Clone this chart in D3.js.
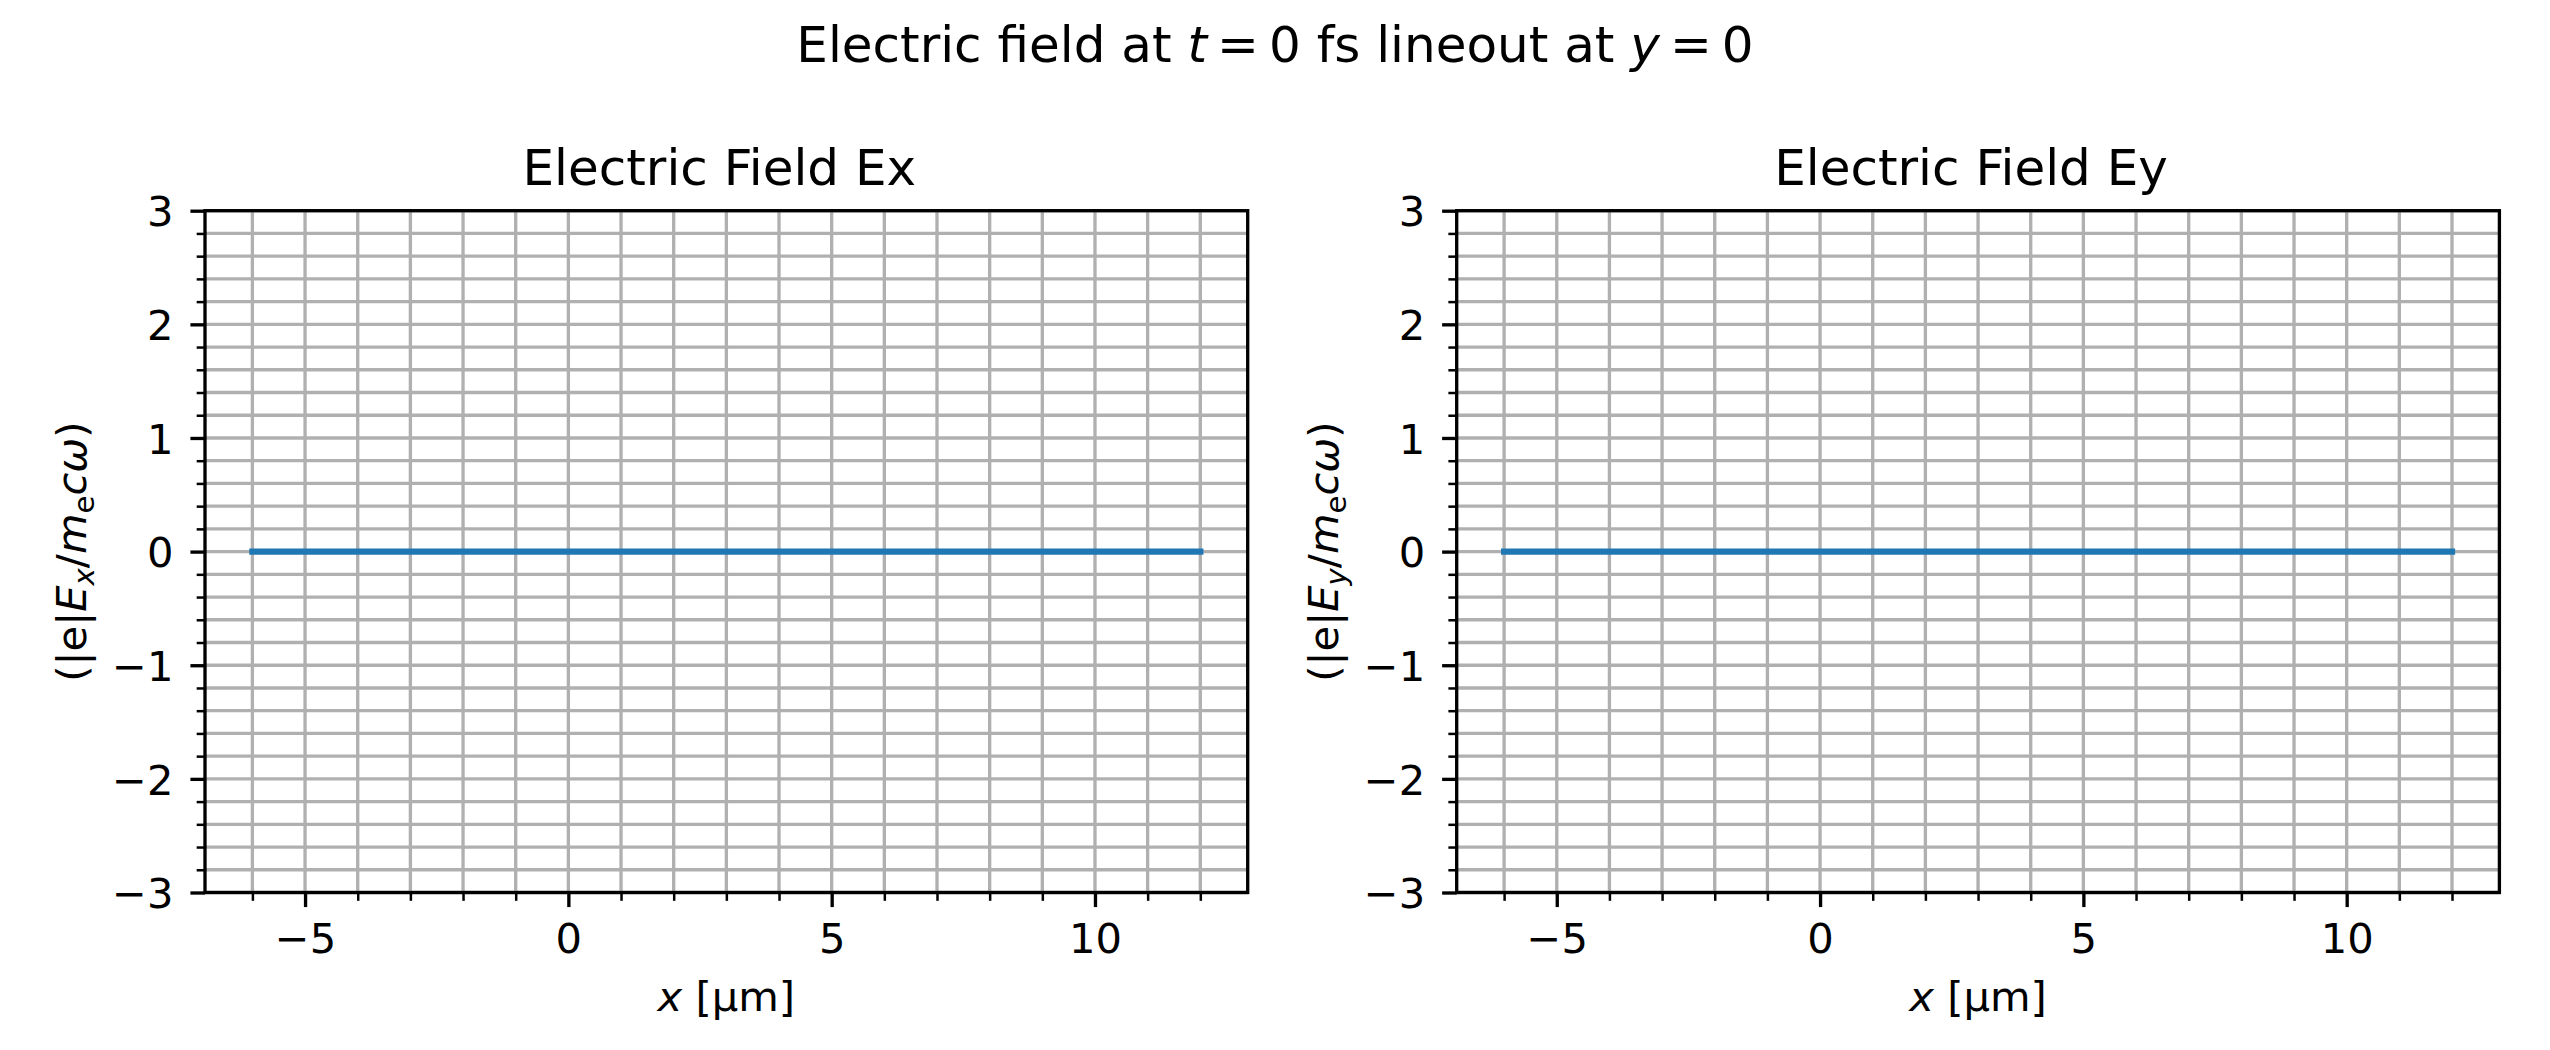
<!DOCTYPE html>
<html>
<head>
<meta charset="utf-8">
<script src="https://cdn.jsdelivr.net/npm/d3@7"></script>
<style>
  html, body { margin: 0; padding: 0; background: #fff; }
  svg { display: block; font-family: "DejaVu Sans", sans-serif; }
</style>
</head>
<body>
<svg id="chart" width="2550" height="1050"></svg>
<script>
// ---- data ----
const xPositions = [-6, 12];          // x [µm] lineout extent
const exValues = [0, 0];              // Ex at t = 0
const eyValues = [0, 0];              // Ey at t = 0
const xDomain = [-6.9, 12.9];
const yDomain = [-3, 3];
const xMajorTicks = [-5, 0, 5, 10];
const xMinorTicks = [-6, -4, -3, -2, -1, 1, 2, 3, 4, 6, 7, 8, 9, 11, 12];
const yMajorTicks = [-3, -2, -1, 0, 1, 2, 3];
const yMinorTicks = [-2.8, -2.6, -2.4, -2.2, -1.8, -1.6, -1.4, -1.2, -0.8, -0.6, -0.4, -0.2,
                     0.2, 0.4, 0.6, 0.8, 1.2, 1.4, 1.6, 1.8, 2.2, 2.4, 2.6, 2.8];
const panelTitles = ["Electric Field Ex", "Electric Field Ey"];
const subscripts = ["x", "y"];

// ---- layout ----
const svg = d3.select("#chart");
const fs10 = 41.667, fs12 = 50;
const pt = 300 / 72;
const axW = 1042.7, axTop = 210.7, axBottom = 892.5;
const lefts = [205, 1456.7];

// suptitle
const sup = svg.append("text").attr("x", 1275).attr("y", 62)
  .attr("text-anchor", "middle").attr("font-size", fs12).attr("fill", "#000");
sup.append("tspan").text("Electric field at ");
sup.append("tspan").attr("font-style", "italic").text("t");
sup.append("tspan").attr("dx", 10).text("=");
sup.append("tspan").attr("dx", 10).text("0");
sup.append("tspan").text(" fs lineout at ");
sup.append("tspan").attr("font-style", "italic").text("y");
sup.append("tspan").attr("dx", 10).text("=");
sup.append("tspan").attr("dx", 10).text("0");

const fmt = d => (d < 0 ? "\u2212" : "") + Math.abs(d);

[exValues, eyValues].forEach((vals, p) => {
  const L = lefts[p];
  const x = d3.scaleLinear().domain(xDomain).range([L, L + axW]);
  const y = d3.scaleLinear().domain(yDomain).range([axBottom, axTop]);
  const g = svg.append("g");

  // grid (major + minor)
  const gx = xMajorTicks.concat(xMinorTicks);
  const gy = yMajorTicks.concat(yMinorTicks);
  g.append("g").selectAll("line").data(gx).join("line")
    .attr("x1", d => x(d)).attr("x2", d => x(d))
    .attr("y1", axTop).attr("y2", axBottom)
    .attr("stroke", "#b0b0b0").attr("stroke-width", 0.8 * pt);
  g.append("g").selectAll("line").data(gy).join("line")
    .attr("x1", L).attr("x2", L + axW)
    .attr("y1", d => y(d)).attr("y2", d => y(d))
    .attr("stroke", "#b0b0b0").attr("stroke-width", 0.8 * pt);

  // data line
  const line = d3.line().x(d => x(d[0])).y(d => y(d[1]));
  g.append("path").datum(xPositions.map((xv, i) => [xv, vals[i]]))
    .attr("d", line).attr("fill", "none")
    .attr("stroke", "#1f77b4").attr("stroke-width", 1.5 * pt)
    .attr("stroke-linecap", "square");

  // x axis ticks
  const xa = g.append("g").attr("transform", `translate(0,${axBottom})`)
    .call(d3.axisBottom(x).tickValues(xMajorTicks).tickSize(3.5 * pt).tickFormat(fmt));
  xa.select(".domain").remove();
  xa.selectAll(".tick line").attr("stroke", "#000").attr("stroke-width", 0.8 * pt);
  xa.selectAll(".tick text").attr("y", 60.5).attr("dy", null)
    .attr("font-size", fs10).attr("font-family", "DejaVu Sans").attr("fill", "#000");
  const xm = g.append("g").attr("transform", `translate(0,${axBottom})`)
    .call(d3.axisBottom(x).tickValues(xMinorTicks).tickSize(2 * pt).tickFormat(""));
  xm.select(".domain").remove();
  xm.selectAll(".tick line").attr("stroke", "#000").attr("stroke-width", 0.6 * pt);

  // y axis ticks
  const ya = g.append("g").attr("transform", `translate(${L},0)`)
    .call(d3.axisLeft(y).tickValues(yMajorTicks).tickSize(3.5 * pt).tickFormat(fmt));
  ya.select(".domain").remove();
  ya.selectAll(".tick line").attr("stroke", "#000").attr("stroke-width", 0.8 * pt);
  ya.selectAll(".tick text").attr("x", -31.5).attr("dy", "0.3645em")
    .attr("font-size", fs10).attr("font-family", "DejaVu Sans").attr("fill", "#000");
  const ym = g.append("g").attr("transform", `translate(${L},0)`)
    .call(d3.axisLeft(y).tickValues(yMinorTicks).tickSize(2 * pt).tickFormat(""));
  ym.select(".domain").remove();
  ym.selectAll(".tick line").attr("stroke", "#000").attr("stroke-width", 0.6 * pt);

  // spines
  g.append("rect").attr("x", L).attr("y", axTop).attr("width", axW)
    .attr("height", axBottom - axTop).attr("fill", "none")
    .attr("stroke", "#000").attr("stroke-width", 0.8 * pt);

  // title
  g.append("text").attr("x", L + axW / 2 - 7).attr("y", 185)
    .attr("text-anchor", "middle").attr("font-size", fs12).attr("fill", "#000")
    .text(panelTitles[p]);

  // x label
  const xl = g.append("text").attr("x", L + axW / 2).attr("y", 1011)
    .attr("text-anchor", "middle").attr("font-size", fs10).attr("fill", "#000");
  xl.append("tspan").attr("font-style", "italic").text("x");
  xl.append("tspan").text(" [\u00b5m]");

  // y label
  const bx = 86 + (L - lefts[0]);
  const cy = (axTop + axBottom) / 2;
  const yl = g.append("text").attr("transform", `translate(${bx},${cy}) rotate(-90)`)
    .attr("text-anchor", "middle").attr("font-size", fs10).attr("fill", "#000");
  yl.append("tspan").text("(|e|");
  yl.append("tspan").attr("font-style", "italic").text("E");
  yl.append("tspan").attr("font-style", "italic").attr("font-size", fs10 * 0.7)
    .attr("dy", 8).text(subscripts[p]);
  yl.append("tspan").attr("dy", -8).text("/");
  yl.append("tspan").attr("font-style", "italic").text("m");
  yl.append("tspan").attr("font-size", fs10 * 0.7).attr("dy", 8).text("e");
  yl.append("tspan").attr("font-style", "italic").attr("dy", -8).text("c\u03c9");
  yl.append("tspan").text(")");
});
</script>
</body>
</html>
